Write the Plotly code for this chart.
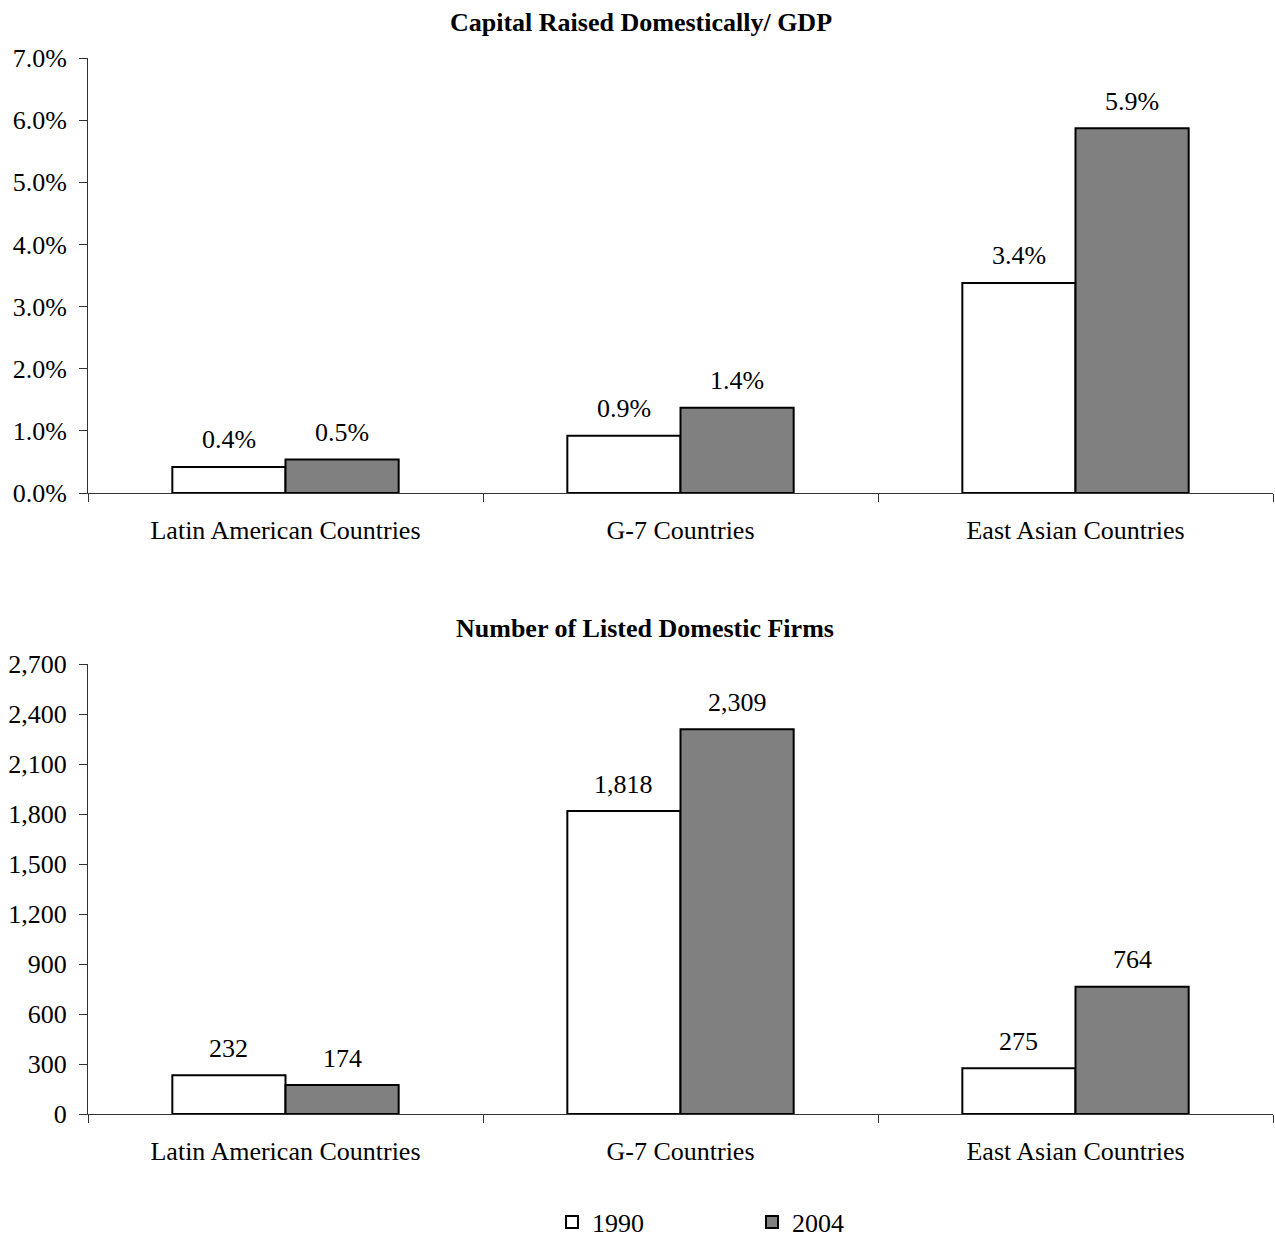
import plotly.graph_objects as go

categories = ["Latin American Countries", "G-7 Countries", "East Asian Countries"]
series_names = ["1990", "2004"]
capital_1990 = [0.0042, 0.0092, 0.0338]
capital_2004 = [0.0054, 0.0137, 0.0587]
firms_1990 = [232, 1818, 275]
firms_2004 = [174, 2309, 764]
top_title = "Capital Raised Domestically/ GDP"
bottom_title = "Number of Listed Domestic Firms"

FONT = "Liberation Serif, Times New Roman, serif"
FS = 26
colors = ["#FFFFFF", "#808080"]

W, H = 1275, 1238
ML, MR = 88, 2
BARGAP = 0.427
plot_w = W - ML - MR
bar_px = plot_w / len(categories) * (1 - BARGAP) / len(series_names)
LABEL_SHIFT = 27

fig = go.Figure()
annotations = []

panels = [
    ("x", "y", [capital_1990, capital_2004], lambda v: f"{v*100:.1f}%"),
    ("x2", "y2", [firms_1990, firms_2004], lambda v: f"{v:,}"),
]
for pi, (xa, ya, series, fmt) in enumerate(panels):
    for i, (name, vals) in enumerate(zip(series_names, series)):
        fig.add_trace(go.Bar(
            x=categories, y=vals, name=name, xaxis=xa, yaxis=ya,
            marker=dict(color=colors[i], line=dict(color="black", width=2)),
            showlegend=(pi == 0),
        ))
        for cat, v in zip(categories, vals):
            annotations.append(dict(
                x=cat, y=v, xref=xa, yref=ya, text=fmt(v), showarrow=False,
                xanchor="center", yanchor="middle",
                xshift=(i - (len(series_names) - 1) / 2) * bar_px, yshift=LABEL_SHIFT,
                font=dict(family=FONT, size=FS, color="black"),
            ))

xcommon = dict(
    type="category", showline=True, linecolor="#333", linewidth=1,
    ticks="outside", tickson="boundaries", ticklen=8, tickcolor="#333",
    ticklabelstandoff=14,
    tickfont=dict(family=FONT, size=FS, color="black"), showgrid=False,
    zeroline=False,
)
ycommon = dict(
    showline=True, linecolor="#333", linewidth=1, ticks="outside",
    ticklen=8, tickcolor="#333", ticklabelstandoff=7,
    tickfont=dict(family=FONT, size=FS, color="black"),
    showgrid=False, zeroline=False,
)

annotations += [
    dict(text="<b>" + top_title + "</b>", x=(641 - ML) / plot_w, y=1 - 22 / H,
         xref="paper", yref="paper", xanchor="center", yanchor="middle", showarrow=False,
         font=dict(family=FONT, size=FS, color="black")),
    dict(text="<b>" + bottom_title + "</b>", x=(645 - ML) / plot_w, y=1 - 628 / H,
         xref="paper", yref="paper", xanchor="center", yanchor="middle", showarrow=False,
         font=dict(family=FONT, size=FS, color="black")),
]

fig.update_layout(
    width=W, height=H,
    paper_bgcolor="white", plot_bgcolor="white",
    margin=dict(l=ML, r=MR, t=0, b=0, autoexpand=False),
    barmode="group", bargap=BARGAP, bargroupgap=0,
    font=dict(family=FONT, size=FS, color="black"),
    xaxis=dict(**xcommon, domain=[0, 1], anchor="y"),
    yaxis=dict(**ycommon, domain=[1 - 493 / H, 1 - 58 / H], range=[0, 0.07],
               tickformat=".1%", dtick=0.01, anchor="x"),
    xaxis2=dict(**xcommon, domain=[0, 1], anchor="y2"),
    yaxis2=dict(**ycommon, domain=[1 - 1114 / H, 1 - 664 / H], range=[0, 2700],
                tickformat=",d", dtick=300, anchor="x2"),
    legend=dict(orientation="h", x=(552 - ML) / plot_w, xanchor="left",
                y=1 - 1222 / H, yanchor="middle",
                font=dict(family=FONT, size=FS), entrywidth=155, entrywidthmode="pixels",
                traceorder="normal", itemsizing="constant"),
    annotations=annotations,
)

fig.write_html(
    "out.html",
    config={"displayModeBar": False},
    post_script="document.body.style.margin='0';document.documentElement.style.overflow='hidden';document.body.style.overflow='hidden';",
)
